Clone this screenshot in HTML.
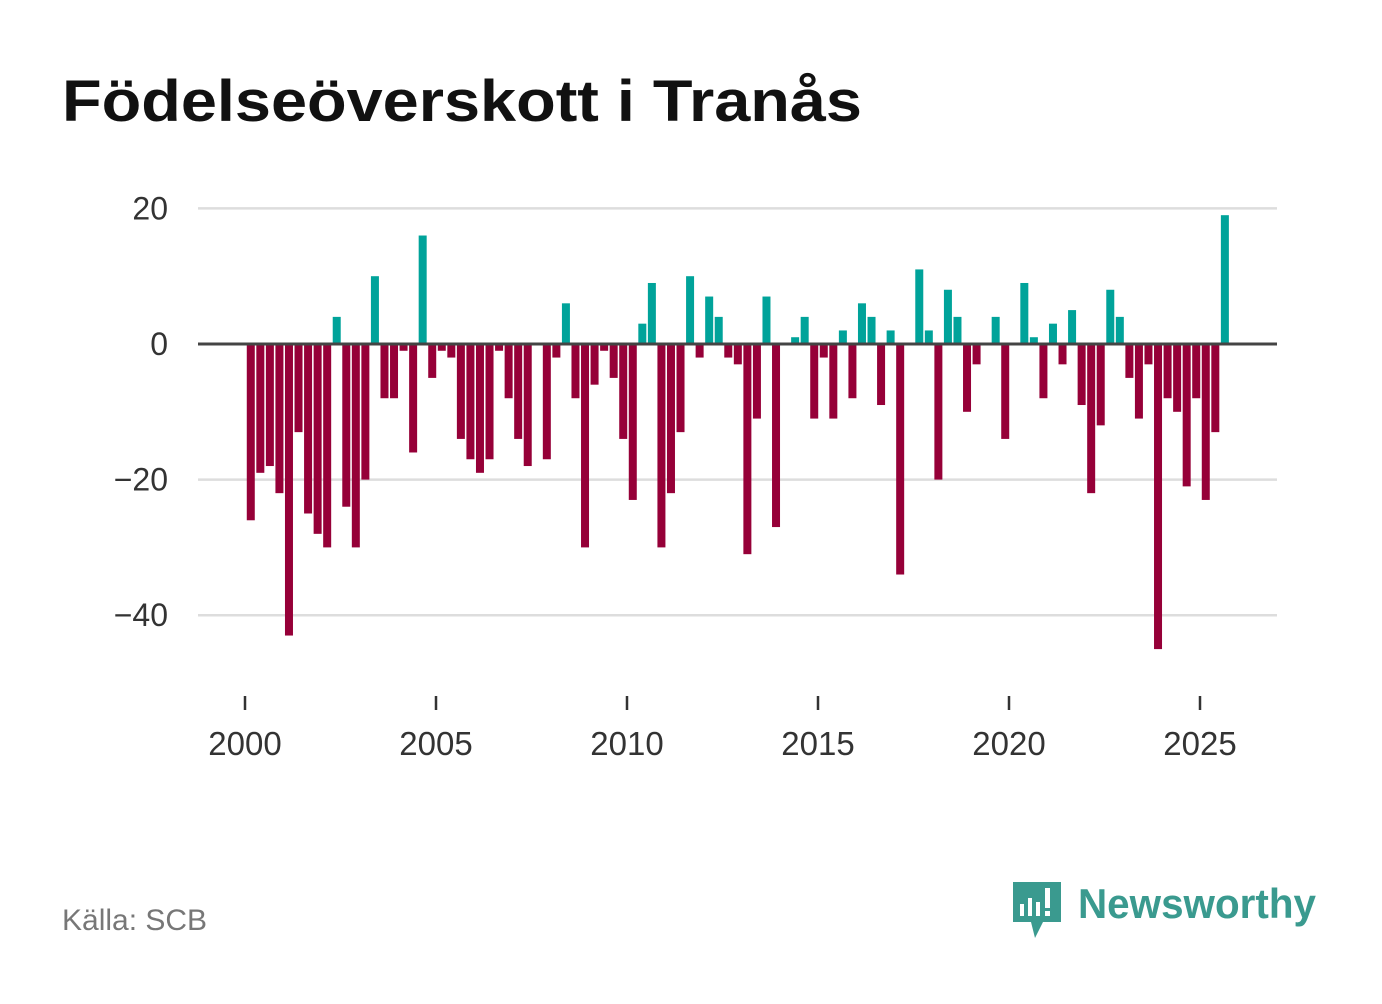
<!DOCTYPE html>
<html><head><meta charset="utf-8"><style>
body{margin:0;background:#fff;font-family:"Liberation Sans","DejaVu Sans",sans-serif;}
</style></head><body>
<svg width="1382" height="999" viewBox="0 0 1382 999">
<text x="62" y="121" font-size="58" font-weight="bold" fill="#111" textLength="800" lengthAdjust="spacingAndGlyphs">Födelseöverskott i Tranås</text>
<g id="grid"></g>
<g id="bars"></g>
<g id="xaxis"></g>
<text x="62" y="930" font-size="30" fill="#777">Källa: SCB</text>
<g>
<path d="M1013 882 h48 v40 h-18 l-8 16 l-4 -16 h-18 z" fill="#3a9a8f"/>
<rect x="1020" y="904" width="4" height="12" fill="#fff"/>
<rect x="1028" y="898" width="4" height="18" fill="#fff"/>
<rect x="1036" y="902" width="4" height="14" fill="#fff"/>
<rect x="1045" y="888" width="5" height="20" fill="#fff"/>
<rect x="1045" y="911" width="5" height="5" fill="#fff"/>
<text x="1078" y="918" font-size="42" font-weight="bold" fill="#3a9a8f" textLength="238" lengthAdjust="spacingAndGlyphs">Newsworthy</text>
</g>
</svg>
<script>
const yTicks=[20,0,-20,-40];
const xTicks=[2000,2005,2010,2015,2020,2025];
const startYear=2000;
const values=[-26,-19,-18,-22,-43,-13,-25,-28,-30,4,-24,-30,-20,10,-8,-8,-1,-16,16,-5,-1,-2,-14,-17,-19,-17,-1,-8,-14,-18,0,-17,-2,6,-8,-30,-6,-1,-5,-14,-23,3,9,-30,-22,-13,10,-2,7,4,-2,-3,-31,-11,7,-27,0,1,4,-11,-2,-11,2,-8,6,4,-9,2,-34,0,11,2,-20,8,4,-10,-3,0,4,-14,0,9,1,-8,3,-3,5,-9,-22,-12,8,4,-5,-11,-3,-45,-8,-10,-21,-8,-23,-13,19];
const NS="http://www.w3.org/2000/svg";
function y(v){return 344-v*6.78;}
function x(yr){return 245+(yr-2000)*38.2;}
const grid=document.getElementById('grid');
yTicks.forEach(t=>{
 const l=document.createElementNS(NS,'line');
 l.setAttribute('x1',198);l.setAttribute('x2',1277);l.setAttribute('y1',y(t));l.setAttribute('y2',y(t));
 l.setAttribute('stroke',t===0?'#444':'#ddd');l.setAttribute('stroke-width',t===0?3:2.5);
 
 
 grid.appendChild(l);
 const tx=document.createElementNS(NS,'text');
 tx.setAttribute('x',168);tx.setAttribute('y',y(t)+11);tx.setAttribute('text-anchor','end');
 tx.setAttribute('font-size',32);tx.setAttribute('fill','#333');
 tx.textContent=t<0?'\u2212'+Math.abs(t):String(t);
 
 
 grid.appendChild(tx);
});
const bars=document.getElementById('bars');
values.forEach((v,i)=>{
 const cx=x(startYear+i/4+0.125)+1;
 const r=document.createElementNS(NS,'rect');
 r.setAttribute('x',cx-4);r.setAttribute('width',8);
 r.setAttribute('y',v>=0?y(v):y(0)+1.5);
 r.setAttribute('height',Math.max(0,v>=0?y(0)-y(v)-1.5:y(v)-y(0)-1.5));
 r.setAttribute('fill',v>=0?'#00a39a':'#960038');
 
 
 bars.appendChild(r);
});
const xa=document.getElementById('xaxis');
xTicks.forEach(t=>{
 const l=document.createElementNS(NS,'line');
 l.setAttribute('x1',x(t));l.setAttribute('x2',x(t));l.setAttribute('y1',696);l.setAttribute('y2',710);
 l.setAttribute('stroke','#333');l.setAttribute('stroke-width',2.5);
 
 
 xa.appendChild(l);
 const tx=document.createElementNS(NS,'text');
 tx.setAttribute('x',x(t));tx.setAttribute('y',755);tx.setAttribute('text-anchor','middle');
 tx.setAttribute('font-size',33);tx.setAttribute('fill','#333');tx.textContent=t;
 
 
 xa.appendChild(tx);
});
</script>
</body></html>
